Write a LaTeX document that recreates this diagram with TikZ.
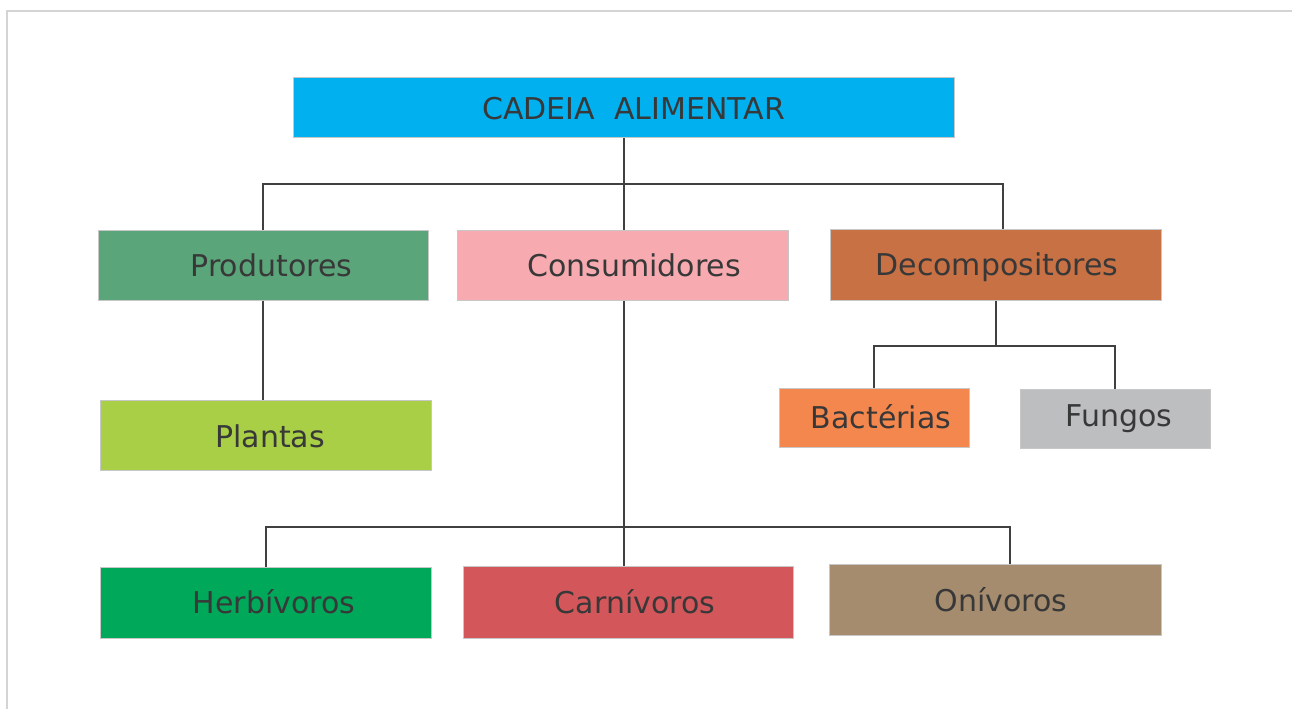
\documentclass[tikz,border=0pt]{standalone}
\usepackage{fontspec}
\setmainfont{DejaVu Sans}
\definecolor{txt}{HTML}{383838}
\definecolor{ln}{HTML}{404040}
\definecolor{cTop}{HTML}{00B0EF}
\definecolor{cProd}{HTML}{5BA57A}
\definecolor{cCons}{HTML}{F7ABB0}
\definecolor{cDec}{HTML}{C87145}
\definecolor{cPlan}{HTML}{A8CF45}
\definecolor{cBac}{HTML}{F4874D}
\definecolor{cFun}{HTML}{BDBEC0}
\definecolor{cHer}{HTML}{00A85A}
\definecolor{cCar}{HTML}{D3575A}
\definecolor{cOni}{HTML}{A68C6E}
\definecolor{frame}{HTML}{D4D4D4}
\begin{document}
\begin{tikzpicture}[x=1pt,y=-1pt,
  box/.style={draw=black!22, line width=1pt, inner sep=0pt, rectangle},
  lbl/.style={text=txt, inner sep=0pt, text height=22pt, text depth=0pt, font=\fontsize{30}{35}\selectfont},
  conn/.style={draw=ln, line width=2pt}]
\useasboundingbox (0,0) rectangle (1292,709);
\draw[frame, line width=2pt] (7,709) -- (7,11) -- (1292,11);
% boxes
\node[box, fill=cTop, minimum width=661pt, minimum height=60pt] (top) at (623.5,107.5) {};
\node[box, fill=cProd, minimum width=330pt, minimum height=70pt] (prod) at (263,265) {};
\node[box, fill=cCons, minimum width=331pt, minimum height=70pt] (cons) at (622.5,265) {};
\node[box, fill=cDec, minimum width=331pt, minimum height=71pt] (dec) at (995.5,264.5) {};
\node[box, fill=cPlan, minimum width=331pt, minimum height=70pt] (plan) at (265.5,435) {};
\node[box, fill=cBac, minimum width=190pt, minimum height=59pt] (bac) at (874,417.5) {};
\node[box, fill=cFun, minimum width=190pt, minimum height=59pt] (fun) at (1115,418.5) {};
\node[box, fill=cHer, minimum width=331pt, minimum height=71pt] (her) at (266,602.5) {};
\node[box, fill=cCar, minimum width=330pt, minimum height=72pt] (car) at (628,602) {};
\node[box, fill=cOni, minimum width=332pt, minimum height=71pt] (oni) at (995,599.5) {};
% labels
\node[lbl] (tTop) at (633.5,108.5) {CADEIA\ \ ALIMENTAR};
\node[lbl] (tProd) at (271.5,265.5) {Produtores};
\node[lbl] (tCons) at (634,265) {Consumidores};
\node[lbl] (tDec) at (997,264) {Decompositores};
\node[lbl] (tPlan) at (270,436) {Plantas};
\node[lbl] (tBac) at (881,417.5) {Bactérias};
\node[lbl] (tFun) at (1119,415) {Fungos};
\node[lbl] (tHer) at (274,602.5) {Herbívoros};
\node[lbl] (tCar) at (635,602.5) {Carnívoros};
\node[lbl] (tOni) at (1001,600) {Onívoros};
% junctions
\coordinate (jA) at (1003,184);
\coordinate (jB) at (996,346);
\coordinate (jC) at (1010,527);
% connectors
\draw[conn] (top.south) -- (top.south |- cons.north);
\draw[conn] (prod.north) |- (jA) -- (jA |- dec.north);
\draw[conn] (prod.south) -- (prod.south |- plan.north);
\draw[conn] (dec.south -| jB) -- (jB);
\draw[conn] (bac.north) |- (jB) -| (fun.north);
\draw[conn] (top.south |- cons.south) -- (top.south |- car.north);
\draw[conn] (her.north) |- (jC) -- (jC |- oni.north);
\end{tikzpicture}
\end{document}
